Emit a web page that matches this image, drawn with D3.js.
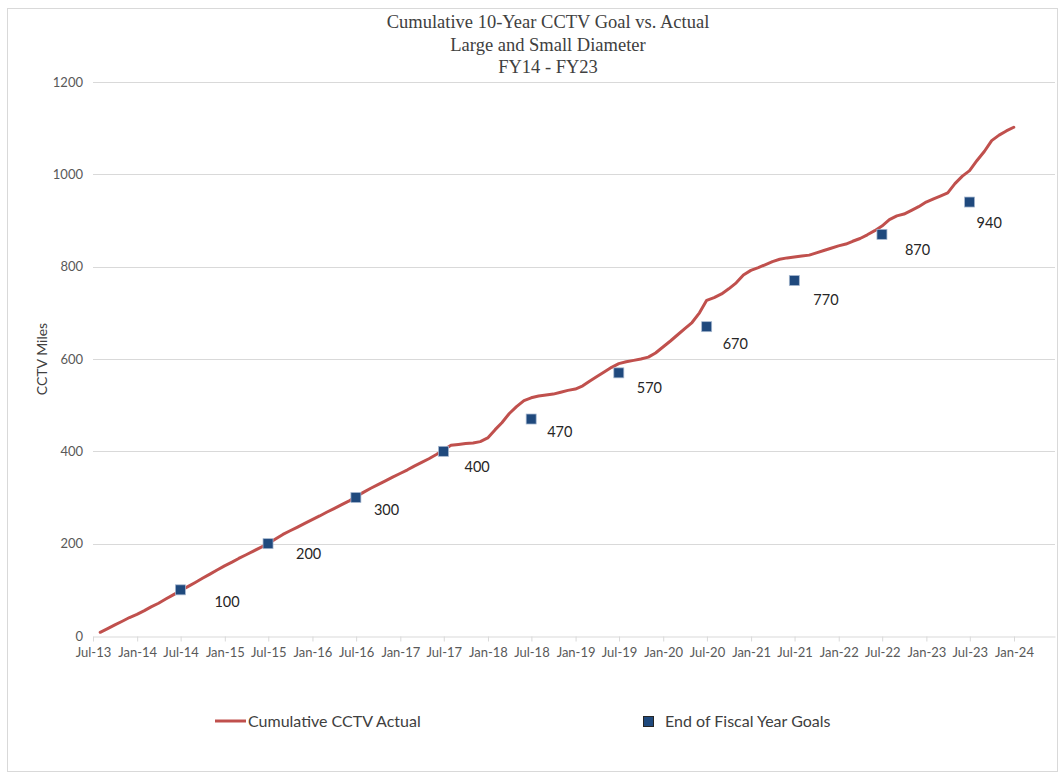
<!DOCTYPE html>
<html>
<head>
<meta charset="utf-8">
<script src="https://cdn.jsdelivr.net/npm/d3@7"></script>
<style>
  body { margin: 0; background: #fff; }
  svg { display: block; }
</style>
</head>
<body>
<div id="chart"><svg></svg></div>
<script>
// Monthly cumulative actual miles, Jul 2013 .. Dec 2023 (end of month)
const firstMonth = "2013-07";
const actualMiles = [
  8, 16, 24, 32, 40, 47,
  55, 63, 71, 80, 89, 98, 107, 116, 125, 134, 143, 152,
  160, 168, 176, 184, 192, 200, 210, 220, 228, 236, 244, 252,
  260, 268, 276, 284, 292, 302, 311, 320, 328, 336, 344, 352,
  360, 368, 376, 384, 393, 403, 413, 415, 417, 418, 421, 429,
  447, 462, 482, 497, 510, 516, 520, 522, 524, 528, 532, 535,
  542, 552, 562, 572, 582, 590, 594, 597, 600, 604, 613, 626,
  639, 652, 666, 679, 700, 727, 733, 741, 752, 765, 782, 792,
  798, 804, 811, 816, 819, 821, 823, 825, 830, 835, 840, 845,
  849, 855, 861, 869, 878, 888, 902, 910, 914, 922, 930, 940,
  947, 953, 960, 980, 996, 1008, 1030, 1050, 1073, 1085, 1094, 1102
];

// End of fiscal year goals
const goalDates = ["2014-06-30", "2015-06-30", "2016-06-30", "2017-06-30", "2018-06-30",
                   "2019-06-30", "2020-06-30", "2021-06-30", "2022-06-30", "2023-06-30"];
const goalMiles = [100, 200, 300, 400, 470, 570, 670, 770, 870, 940];

const yTicks = [0, 200, 400, 600, 800, 1000, 1200];
const titleLines = ["Cumulative 10-Year CCTV Goal vs. Actual", "Large and Small Diameter", "FY14 - FY23"];

// label placement (text start / vertical centre, relative to the marker)
const labelNudge = [[34, 12], [28, 10], [18, 12], [21, 16], [16, 13], [18, 15], [16, 17], [19, 19], [23, 16], [7, 21]];

const W = 1060, H = 775;
const plot = {left: 93, right: 1055, top: 82, bottom: 636};
const sans = "Lato, 'Open Sans', sans-serif";

const svg = d3.select("#chart svg").attr("width", W).attr("height", H);

// chart border
svg.append("rect")
    .attr("x", 7.5).attr("y", 8.5)
    .attr("width", 1050).attr("height", 763)
    .attr("fill", "#fff")
    .attr("stroke", "#d9d9d9");

const parseMonth = d3.timeParse("%Y-%m");
const parseDay = d3.timeParse("%Y-%m-%d");
const start = parseMonth(firstMonth);
const actual = actualMiles.map((v, i) => ({
    date: d3.timeDay.offset(d3.timeMonth.offset(start, i + 1), -1),
    value: v
}));
const goals = goalMiles.map((v, i) => ({date: parseDay(goalDates[i]), value: v, nudge: labelNudge[i]}));

// Scales (Jan-24 tick sits at 1014, plot runs a bit past it)
const x = d3.scaleTime()
    .domain([new Date(2013, 6, 1), new Date(2024, 0, 1)])
    .range([plot.left, 1014]);
x.domain([new Date(2013, 6, 1), x.invert(plot.right)]).range([plot.left, plot.right]);

const y = d3.scaleLinear()
    .domain([0, 1200])
    .range([plot.bottom, plot.top]);

// Gridlines
svg.append("g")
    .selectAll("line")
    .data(yTicks.filter(d => d > 0))
    .join("line")
    .attr("x1", plot.left).attr("x2", plot.right)
    .attr("y1", d => Math.round(y(d)) + 0.5).attr("y2", d => Math.round(y(d)) + 0.5)
    .attr("stroke", "#d9d9d9");

// Y axis labels
const yAxis = svg.append("g")
    .attr("transform", `translate(${plot.left},0)`)
    .call(d3.axisLeft(y).tickValues(yTicks).tickFormat(d3.format("d")).tickSize(0).tickPadding(10));
yAxis.select(".domain").remove();
yAxis.selectAll("text")
    .style("font-family", sans)
    .style("font-size", "13px")
    .attr("fill", "#595959");

// X axis
const xAxis = svg.append("g")
    .attr("transform", `translate(0,${Math.round(plot.bottom) + 0.5})`)
    .call(d3.axisBottom(x)
        .ticks(d3.timeMonth.every(6))
        .tickFormat(d3.timeFormat("%b-%y"))
        .tickSizeInner(5).tickSizeOuter(0).tickPadding(6));
xAxis.select(".domain").attr("stroke", "#d9d9d9");
xAxis.selectAll(".tick line").attr("stroke", "#d9d9d9");
xAxis.selectAll("text")
    .style("font-family", sans)
    .style("font-size", "13px")
    .attr("fill", "#595959");

// Y axis title
svg.append("text")
    .attr("transform", `translate(47,${(plot.top + plot.bottom) / 2}) rotate(-90)`)
    .attr("text-anchor", "middle")
    .style("font-family", sans)
    .style("font-size", "14px")
    .attr("fill", "#404040")
    .text("CCTV Miles");

// Title
svg.append("g")
    .selectAll("text")
    .data(titleLines)
    .join("text")
    .attr("x", 548)
    .attr("y", (d, i) => 28 + i * 22.5)
    .attr("text-anchor", "middle")
    .style("font-family", "'Liberation Serif', 'DejaVu Serif', serif")
    .style("font-size", "18.5px")
    .attr("fill", "#404040")
    .text(d => d);

// Actual line
const line = d3.line()
    .x(d => x(d.date))
    .y(d => y(d.value));

svg.append("path")
    .datum(actual)
    .attr("fill", "none")
    .attr("stroke", "#c0504d")
    .attr("stroke-width", 3)
    .attr("stroke-linejoin", "round")
    .attr("stroke-linecap", "round")
    .attr("d", line);

// Goal markers
svg.append("g")
    .selectAll("rect")
    .data(goals)
    .join("rect")
    .attr("x", d => x(d.date) - 5)
    .attr("y", d => y(d.value) - 5)
    .attr("width", 10).attr("height", 10)
    .attr("fill", "#1f497d")
    .attr("stroke", "#a6b8d0")
    .attr("stroke-width", 0.75);

svg.append("g")
    .selectAll("text")
    .data(goals)
    .join("text")
    .attr("x", d => x(d.date) + d.nudge[0])
    .attr("y", d => y(d.value) + d.nudge[1])
    .attr("dy", "0.35em")
    .style("font-family", sans)
    .style("font-size", "14.5px")
    .attr("fill", "#262626")
    .text(d => d.value);

// Legend
const legend = svg.append("g").attr("transform", "translate(0,721)");
legend.append("line")
    .attr("x1", 215).attr("x2", 246)
    .attr("stroke", "#c0504d").attr("stroke-width", 3);
legend.append("text")
    .attr("x", 248).attr("dy", "0.35em")
    .style("font-family", sans)
    .style("font-size", "16px")
    .attr("fill", "#404040")
    .text("Cumulative CCTV Actual");
legend.append("rect")
    .attr("x", 643.5).attr("y", -4.5)
    .attr("width", 10).attr("height", 10)
    .attr("fill", "#1f497d")
    .attr("stroke", "#262626");
legend.append("text")
    .attr("x", 665).attr("dy", "0.35em")
    .style("font-family", sans)
    .style("font-size", "16px")
    .attr("fill", "#404040")
    .text("End of Fiscal Year Goals");
</script>
</body>
</html>
